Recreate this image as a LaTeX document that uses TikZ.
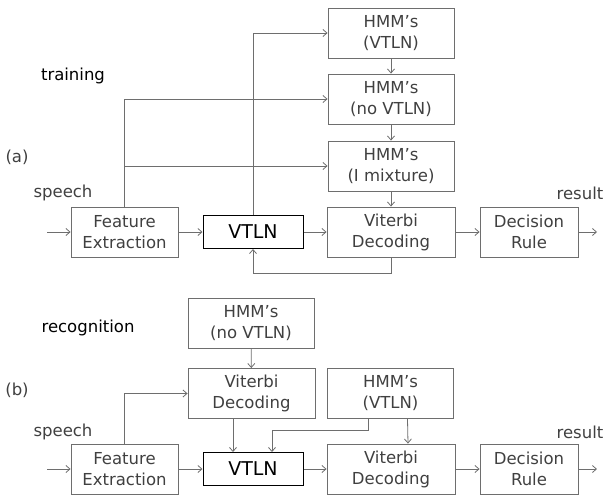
\documentclass[tikz,border=0pt]{standalone}
\usepackage{fontspec}
\setmainfont{DejaVu Sans}
\usetikzlibrary{arrows.meta}
\definecolor{linegray}{HTML}{6E6E6E}
\definecolor{textgray}{HTML}{404040}

\begin{document}
\begin{tikzpicture}[x=1pt, y=-1pt,
  every node/.style = {font=\fontsize{16.5}{21}\selectfont, text=textgray},
  box/.style = {draw=linegray, line width=0.9pt, align=center, inner sep=0pt,
    minimum height=50pt},
  hmm/.style = {box, minimum width=126pt},
  vit/.style = {box, minimum width=128pt},
  vtlnbox/.style = {draw=black, line width=1pt, inner sep=0pt,
    minimum width=100pt, minimum height=33pt,
    font=\fontsize{19}{23}\selectfont, text=black},
  tag/.style = {inner sep=0pt},
  flow/.style = {draw=linegray, line width=0.8pt,
    -{Straight Barb[length=4pt,width=7pt]}}
  ]
  \useasboundingbox (0,0) rectangle (603,498);

  % (a) training
  \node[tag] (lblA)   at (17,157)  {(a)};
  \node[tag, text=black] (train) at (73,76) {training};
  \node[tag] (spA)    at (63,193)  {speech};
  \node[tag] (resA)   at (580,193) {result};
  \node[hmm] (hmmA1)  at (391,33)  {HMM's\\(VTLN)};
  \node[hmm] (hmmA2)  at (391,99)  {HMM's\\(no VTLN)};
  \node[hmm] (hmmA3)  at (391,166) {HMM's\\(I mixture)};
  \node[box, minimum width=107pt] (feA) at (124.5,232) {Feature\\Extraction};
  \node[vtlnbox] (vtlnA) at (253,232) {VTLN};
  \node[vit] (vitA)   at (391,232) {Viterbi\\Decoding};
  \node[box, minimum width=98pt] (decA) at (529,232) {Decision\\Rule};
  \coordinate (inA)  at (47,232);
  \coordinate (outA) at (597,232);

  \draw[flow] (inA) -- (feA);
  \draw[flow] (feA) -- (vtlnA);
  \draw[flow] (vtlnA) -- (vitA);
  \draw[flow] (vitA) -- (decA);
  \draw[flow] (decA) -- (outA);
  \draw[flow] (feA.north) |- (hmmA2.west);
  \draw[flow] (feA.north) |- (hmmA3.west);
  \draw[flow] (vtlnA.north) |- (hmmA1.west);
  \draw[flow] (hmmA1) -- (hmmA2);
  \draw[flow] (hmmA2) -- (hmmA3);
  \draw[flow] (hmmA3) -- (vitA);
  \draw[flow] (vitA.south) -- ++(0,16) -| (vtlnA.south);

  % (b) recognition
  \node[tag] (lblB)   at (17,390)  {(b)};
  \node[tag, text=black] (recog) at (88,328) {recognition};
  \node[tag] (spB)    at (63,432)  {speech};
  \node[tag] (resB)   at (580,432) {result};
  \node[hmm] (hmmB1)  at (251,323.5) {HMM's\\(no VTLN)};
  \node[vit, minimum width=127pt] (vitB1) at (251.5,393.5) {Viterbi\\Decoding};
  \node[hmm] (hmmB2)  at (390.5,393.5) {HMM's\\(VTLN)};
  \node[box, minimum width=107pt] (feB) at (124.5,469) {Feature\\Extraction};
  \node[vtlnbox] (vtlnB) at (253,469) {VTLN};
  \node[vit] (vitB2)  at (391,469) {Viterbi\\Decoding};
  \node[box, minimum width=98pt] (decB) at (529,469) {Decision\\Rule};
  \coordinate (inB)  at (47,469);
  \coordinate (outB) at (597,469);

  \draw[flow] (inB) -- (feB);
  \draw[flow] (feB) -- (vtlnB);
  \draw[flow] (vtlnB) -- (vitB2);
  \draw[flow] (vitB2) -- (decB);
  \draw[flow] (decB) -- (outB);
  \draw[flow] (feB.north) |- (vitB1.west);
  \draw[flow] (hmmB1) -- (vitB1);
  \draw[flow] ([xshift=-20pt]vtlnB.north |- vitB1.south) -- ([xshift=-20pt]vtlnB.north);
  \draw[flow] ([xshift=-22pt]hmmB2.south) -- ++(0,11) -| ([xshift=19pt]vtlnB.north);
  \draw[flow] ([xshift=17pt]hmmB2.south) -- ([xshift=17pt]vitB2.north);
\end{tikzpicture}
\end{document}
